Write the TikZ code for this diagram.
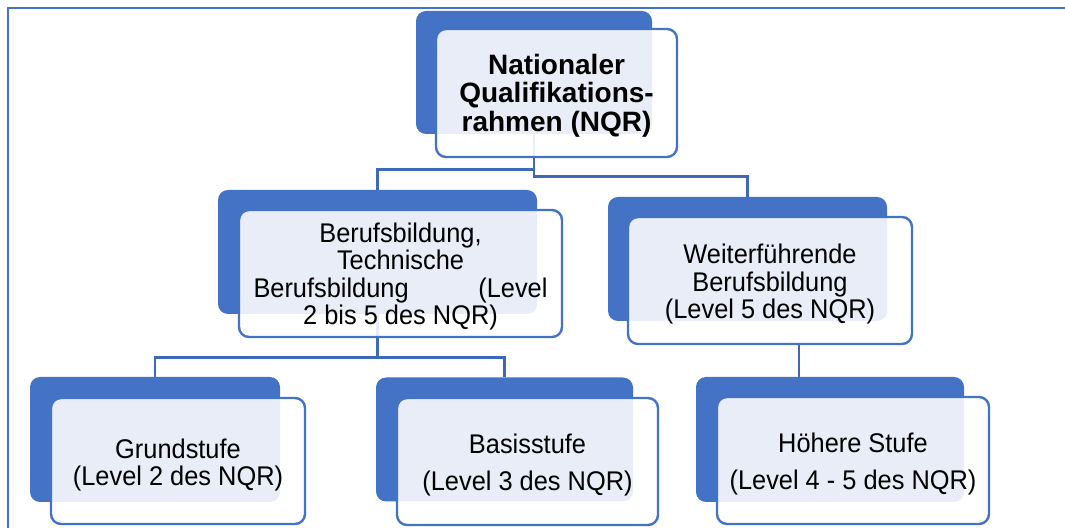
\documentclass[tikz,border=0pt]{standalone}
\usepackage{fontspec}
\setmainfont{Liberation Sans}[FakeStretch=0.94]
\newfontfamily\titlefont{Liberation Sans}
\usepackage{tikz}
\definecolor{accent}{HTML}{4472C4}
\definecolor{linkblue}{HTML}{3E69B6}

\begin{document}
\begin{tikzpicture}[x=0.5pt,y=-0.5pt,
  backbox/.style={fill=accent,rounded corners=5pt,inner sep=0pt},
  frontbox/.style={draw=accent,line width=1.2pt,fill=white,fill opacity=0.88,text opacity=1,
    rounded corners=5pt,inner sep=0pt,align=center,font=\fontsize{13.5}{13.75}\selectfont},
  link/.style={draw=linkblue,line width=1.2pt}]
\useasboundingbox (0,0) rectangle (1065,528);
\draw[accent,line width=0.8pt] (8,528)--(8,8)--(1065,8);
% back boxes
\node[backbox,minimum width=118pt,minimum height=61.5pt] (nqrback) at (534,72.5) {};
\node[backbox,minimum width=159.5pt,minimum height=62pt] (berufback) at (377.5,252) {};
\node[backbox,minimum width=139.5pt,minimum height=62pt] (weiterback) at (747.5,259) {};
\node[backbox,minimum width=125pt,minimum height=62.5pt] (grundback) at (155,439.5) {};
\node[backbox,minimum width=128.5pt,minimum height=62pt] (basisback) at (504.5,439.5) {};
\node[backbox,minimum width=134pt,minimum height=62.5pt] (hoeherback) at (830,439.5) {};
% links
\draw[link] (nqrback.south) -- ++(0,35) -| (berufback.north);
\draw[link] (nqrback.south) -- ++(0,42) -| (weiterback.north);
\draw[link] (berufback.south) -- ++(0,43) -| (grundback.north);
\draw[link] (berufback.south) -- ++(0,43) -| (basisback.north);
\coordinate (hlink) at (799,344);
\draw[link] (hlink) -- (hlink |- hoeherback.north);
% front boxes
\node[frontbox,font=\titlefont\bfseries\fontsize{14}{14.25}\selectfont,
  minimum width=120.5pt,minimum height=64pt] (nqrfront) at (556.5,93)
  {\rule{0pt}{12.5pt}Nationaler\\Qualifikations-\\rahmen (NQR)};
\node[frontbox,minimum width=161.5pt,minimum height=63.5pt] (beruffront) at (400.5,273.5)
  {\rule{0pt}{13pt}Berufsbildung,\\Technische\\\makebox[147pt]{Berufsbildung\hfill(Level}\\2 bis 5 des NQR)};
\node[frontbox,minimum width=142pt,minimum height=63.5pt] (weiterfront) at (770,280.5)
  {\rule{0pt}{13.5pt}Weiterführende\\Berufsbildung\\(Level 5 des NQR)};
\node[frontbox,minimum width=127pt,minimum height=63pt] (grundfront) at (178,461)
  {\rule{0pt}{14pt}Grundstufe\\[-0.5pt](Level 2 des NQR)};
\node[frontbox,minimum width=130.5pt,minimum height=63.5pt] (basisfront) at (527.5,461.5)
  {\rule{0pt}{13pt}Basisstufe\\[4.75pt](Level 3 des NQR)};
\node[frontbox,minimum width=136pt,minimum height=63.5pt] (hoeherfront) at (853,460.5)
  {\rule{0pt}{13pt}Höhere Stufe\\[4.75pt](Level 4 - 5 des NQR)};
\end{tikzpicture}
\end{document}
